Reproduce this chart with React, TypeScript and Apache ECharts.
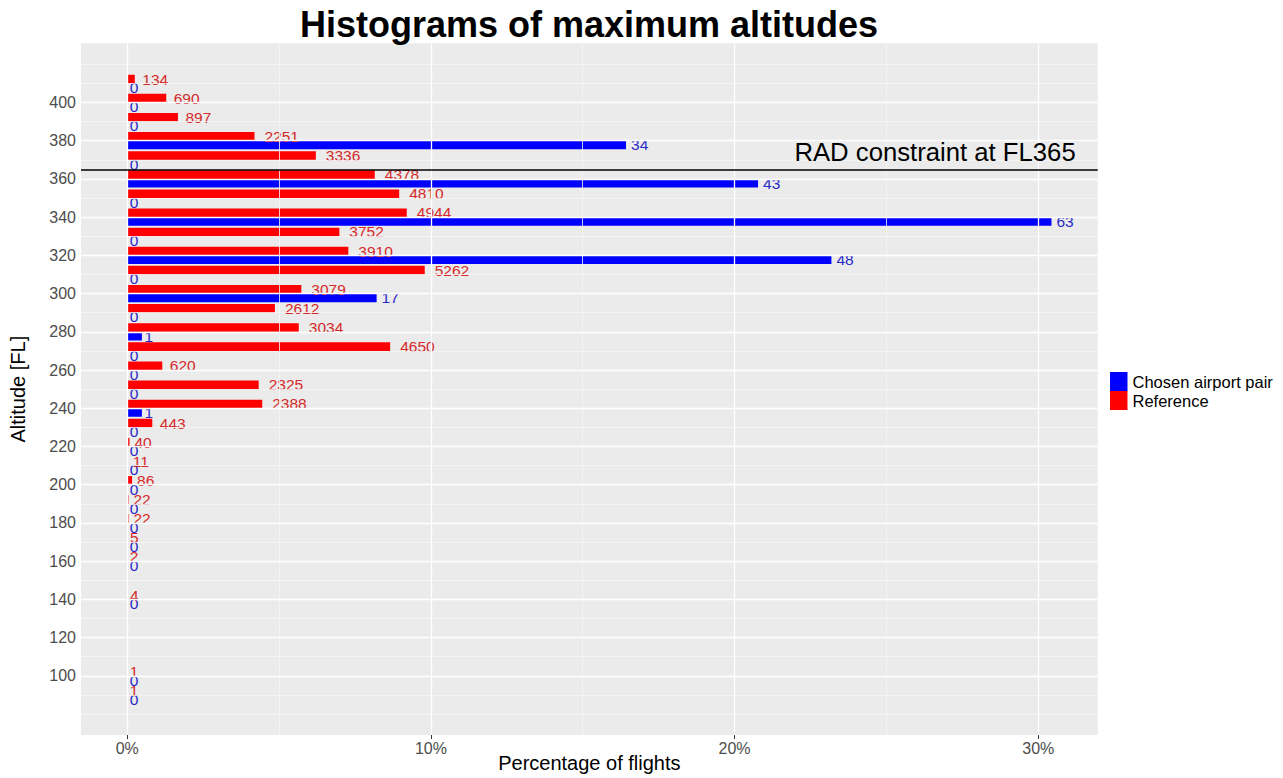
import React, { useEffect, useRef } from 'react';
import * as echarts from 'echarts';

// Histogram bins (flight level) and counts
const altitudes = [90, 100, 140, 160, 170, 180, 190, 200, 210, 220, 230, 240, 250, 260, 270, 280, 290, 300, 310, 320, 330, 340, 350, 360, 370, 380, 390, 400, 410];
const referenceCounts = [1, 1, 4, 2, 5, 22, 22, 86, 11, 40, 443, 2388, 2325, 620, 4650, 3034, 2612, 3079, 5262, 3910, 3752, 4944, 4810, 4378, 3336, 2251, 897, 690, 134];
const chosenCounts = [0, 0, 0, 0, 0, 0, 0, 0, 0, 0, 0, 1, 0, 0, 0, 1, 0, 17, 0, 48, 0, 63, 0, 43, 0, 34, 0, 0, 0];

// Axis ticks
const xMajorTicks = [0, 10, 20, 30];
const xMinorTicks = [5, 15, 25];
const yMajorTicks = [100, 120, 140, 160, 180, 200, 220, 240, 260, 280, 300, 320, 340, 360, 380, 400];
const yMinorTicks = [80, 90, 110, 130, 150, 170, 190, 210, 230, 250, 270, 290, 310, 330, 350, 370, 390, 410, 420];

const RAD_LEVEL = 365;
const RAD_LABEL = 'RAD constraint at FL365';
const SERIES_CHOSEN = 'Chosen airport pair';
const SERIES_REFERENCE = 'Reference';

const FONT = '"Liberation Sans", Arial, Helvetica, sans-serif';

export default function App() {
  const ref = useRef<HTMLDivElement>(null);

  useEffect(() => {
    if (!ref.current) return;
    const chart = echarts.init(ref.current, null, { renderer: 'svg' });

    const refTotal = referenceCounts.reduce((a, b) => a + b, 0);
    const chosenTotal = chosenCounts.reduce((a, b) => a + b, 0);
    const refData = altitudes.map((alt, i) => [(referenceCounts[i] / refTotal) * 100, alt, referenceCounts[i]]);
    const chosenData = altitudes.map((alt, i) => [(chosenCounts[i] / chosenTotal) * 100, alt, chosenCounts[i]]);

    const half = 4.5;
    const makeRender = (upper: boolean, fill: string, textFill: string) => (params: any, api: any) => {
      const pct = api.value(0) as number;
      const alt = api.value(1) as number;
      const cnt = api.value(2) as number;
      const yHigh = upper ? alt + half : alt;
      const yLow = upper ? alt : alt - half;
      const p0 = api.coord([0, yHigh]);
      const p1 = api.coord([pct, yLow]);
      const label = String(cnt);
      return {
        type: 'group',
        children: [
          {
            type: 'rect',
            shape: { x: p0[0], y: p0[1], width: Math.max(0, p1[0] - p0[0]), height: p1[1] - p0[1] },
            style: { fill },
          },
          {
            type: 'text',
            x: p1[0] + label.length * 2.5,
            y: (p0[1] + p1[1]) / 2,
            style: {
              text: label,
              fill: textFill,
              font: `15.5px ${FONT}`,
              align: 'left',
              verticalAlign: 'middle',
              textAlign: 'left',
              textVerticalAlign: 'middle',
            },
          },
        ],
      };
    };

    const gridLines = [
      ...yMinorTicks.map((v) => ({ yAxis: v, lineStyle: { color: '#f6f6f6', width: 0.8, type: 'solid' } })),
      ...xMinorTicks.map((v) => ({ xAxis: v, lineStyle: { color: '#f6f6f6', width: 0.8, type: 'solid' } })),
      ...yMajorTicks.map((v) => ({ yAxis: v, lineStyle: { color: '#ffffff', width: 1.3, type: 'solid' } })),
      ...xMajorTicks.map((v) => ({ xAxis: v, lineStyle: { color: '#ffffff', width: 1.3, type: 'solid' } })),
    ];

    const option: any = {
      animation: false,
      backgroundColor: '#ffffff',
      textStyle: { fontFamily: FONT },
      grid: {
        left: 81,
        top: 43.3,
        right: 185.3,
        bottom: 43,
        show: true,
        backgroundColor: '#ebebeb',
        borderWidth: 0,
        containLabel: false,
        outerBoundsMode: 'none',
      },
      graphic: [
        {
          type: 'text',
          x: 589,
          y: 24,
          style: {
            text: 'Histograms of maximum altitudes',
            font: `bold 36px ${FONT}`,
            fill: '#000000',
            align: 'center',
            verticalAlign: 'middle',
            textAlign: 'center',
            textVerticalAlign: 'middle',
          },
        },
      ],
      legend: {
        orient: 'vertical',
        left: 1110,
        top: 372,
        itemWidth: 17.5,
        itemHeight: 19,
        itemGap: 0,
        icon: 'rect',
        padding: 0,
        textStyle: { fontSize: 16.5, color: '#000000', fontFamily: FONT },
        data: [SERIES_CHOSEN, SERIES_REFERENCE],
      },
      xAxis: {
        type: 'value',
        min: -1.522,
        max: 31.957,
        axisLine: { show: false },
        splitLine: { show: false },
        axisTick: { show: true, length: 4, lineStyle: { color: '#333333', width: 1 }, customValues: xMajorTicks },
        axisLabel: {
          customValues: xMajorTicks,
          formatter: '{value}%',
          fontSize: 16,
          color: '#4d4d4d',
          margin: 5,
          fontFamily: FONT,
        },
        name: 'Percentage of flights',
        nameLocation: 'middle',
        nameGap: 18,
        nameMoveOverlap: false,
        nameTextStyle: { fontSize: 20, color: '#000000', fontFamily: FONT },
      },
      yAxis: {
        type: 'value',
        min: 69.05,
        max: 430.95,
        axisLine: { show: false },
        splitLine: { show: false },
        axisTick: { show: true, length: 4, lineStyle: { color: '#333333', width: 1 }, customValues: yMajorTicks },
        axisLabel: {
          customValues: yMajorTicks,
          fontSize: 16,
          color: '#4d4d4d',
          margin: 5,
          fontFamily: FONT,
        },
        name: 'Altitude [FL]',
        nameLocation: 'middle',
        nameGap: 53,
        nameRotate: 90,
        nameTextStyle: { fontSize: 20, color: '#000000', fontFamily: FONT },
      },
      series: [
        {
          type: 'line',
          name: 'gridlines',
          data: [],
          z: 1,
          silent: true,
          markLine: {
            silent: true,
            symbol: ['none', 'none'],
            label: { show: false },
            lineStyle: { type: 'solid' },
            data: gridLines,
          },
        },
        {
          type: 'custom',
          name: SERIES_CHOSEN,
          itemStyle: { color: '#0000ff' },
          encode: { x: 0, y: 1 },
          z: 3,
          renderItem: makeRender(false, '#0000ff', '#2828c8'),
          data: chosenData,
        },
        {
          type: 'custom',
          name: SERIES_REFERENCE,
          itemStyle: { color: '#ff0000' },
          encode: { x: 0, y: 1 },
          z: 3,
          renderItem: makeRender(true, '#ff0000', '#d42a2a'),
          data: refData,
        },
        {
          type: 'line',
          name: 'rad',
          data: [],
          z: 5,
          silent: true,
          markLine: {
            silent: true,
            symbol: ['none', 'none'],
            lineStyle: { color: '#000000', width: 1.6, type: 'solid' },
            label: {
              show: true,
              position: 'insideEndTop',
              formatter: RAD_LABEL,
              fontSize: 25.7,
              color: '#000000',
              fontFamily: FONT,
              distance: [22, 4],
            },
            data: [{ yAxis: RAD_LEVEL }],
          },
        },
      ],
    };

    chart.setOption(option);
    return () => {
      chart.dispose();
    };
  }, []);

  return (
    <div
      ref={ref}
      style={{ position: 'absolute', left: 0, top: 0, width: 1283, height: 778 }}
    />
  );
}
